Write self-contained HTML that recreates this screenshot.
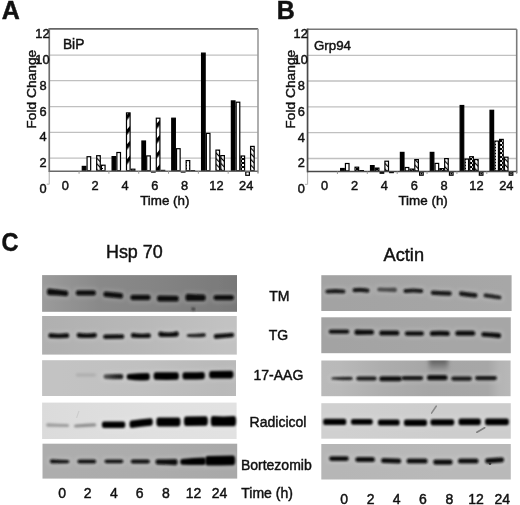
<!DOCTYPE html>
<html><head><meta charset="utf-8"><style>
html,body{margin:0;padding:0;background:#fff;width:520px;height:505px;overflow:hidden}
svg{display:block}
text{font-family:"Liberation Sans", sans-serif;fill:#111;stroke:#111;stroke-width:0.45px}
svg{will-change:transform}
</style></head><body>
<svg width="520" height="505" viewBox="0 0 520 505">
<defs>
<pattern id="chk" width="4" height="4" patternUnits="userSpaceOnUse"><rect width="4" height="4" fill="#fff"/><rect width="2" height="2" fill="#000"/><rect x="2" y="2" width="2" height="2" fill="#000"/></pattern>
<pattern id="diag" width="9.5" height="9.5" patternUnits="userSpaceOnUse" patternTransform="rotate(40)"><rect width="9.5" height="9.5" fill="#fff"/><rect width="3.4" height="9.5" fill="#000"/></pattern>
<pattern id="diag2" width="4" height="4" patternUnits="userSpaceOnUse" patternTransform="rotate(-45)"><rect width="4" height="4" fill="#fff"/><rect width="1.2" height="4" fill="#000"/></pattern>
<pattern id="dots" width="3" height="3" patternUnits="userSpaceOnUse"><rect width="3" height="3" fill="#fff"/><rect width="1" height="1" fill="#000"/></pattern>
<filter id="bl" x="-20%" y="-100%" width="140%" height="300%"><feGaussianBlur stdDeviation="0.95"/></filter>
<filter id="bl2" x="-50%" y="-100%" width="200%" height="300%"><feGaussianBlur stdDeviation="2.2"/></filter>
<linearGradient id="g174" x1="0" x2="1" y1="0" y2="0"><stop offset="0" stop-color="#5a5a5a"/><stop offset="0.6" stop-color="#2a2a2a"/><stop offset="1" stop-color="#1a1a1a"/></linearGradient>
<clipPath id="cp3"><rect x="321.3" y="360.5" width="189.3" height="35.7"/></clipPath>
<linearGradient id="cloud" x1="0" x2="0" y1="0" y2="1"><stop offset="0" stop-color="#505050" stop-opacity="0.95"/><stop offset="0.4" stop-color="#606060" stop-opacity="0.7"/><stop offset="1" stop-color="#888" stop-opacity="0"/></linearGradient>
<filter id="soft"><feGaussianBlur stdDeviation="0.35"/></filter>
</defs>
<defs><linearGradient id="pg0" x1="0" x2="1" y1="0" y2="0"><stop offset="-0.001" stop-color="rgb(155,155,155)"/><stop offset="0.148" stop-color="rgb(146,146,146)"/><stop offset="0.297" stop-color="rgb(137,137,137)"/><stop offset="0.554" stop-color="rgb(133,133,133)"/><stop offset="0.810" stop-color="rgb(126,126,126)"/><stop offset="1.000" stop-color="rgb(120,120,120)"/></linearGradient><linearGradient id="pg1" x1="0" x2="1" y1="0" y2="0"><stop offset="-0.001" stop-color="rgb(176,176,176)"/><stop offset="0.092" stop-color="rgb(177,177,177)"/><stop offset="0.503" stop-color="rgb(184,184,184)"/><stop offset="0.945" stop-color="rgb(194,194,194)"/><stop offset="1.001" stop-color="rgb(194,194,194)"/></linearGradient><linearGradient id="pg2" x1="0" x2="1" y1="0" y2="0"><stop offset="-0.001" stop-color="rgb(195,195,195)"/><stop offset="0.092" stop-color="rgb(195,195,195)"/><stop offset="0.505" stop-color="rgb(192,192,192)"/><stop offset="0.928" stop-color="rgb(185,185,185)"/><stop offset="1.000" stop-color="rgb(186,186,186)"/></linearGradient><linearGradient id="pg3" x1="0" x2="1" y1="0" y2="0"><stop offset="-0.001" stop-color="rgb(219,219,219)"/><stop offset="0.092" stop-color="rgb(220,220,220)"/><stop offset="0.555" stop-color="rgb(224,224,224)"/><stop offset="0.946" stop-color="rgb(226,226,226)"/><stop offset="1.002" stop-color="rgb(226,226,226)"/></linearGradient><linearGradient id="pg4" x1="0" x2="1" y1="0" y2="0"><stop offset="-0.003" stop-color="rgb(173,173,173)"/><stop offset="0.090" stop-color="rgb(173,173,173)"/><stop offset="0.552" stop-color="rgb(172,172,172)"/><stop offset="0.942" stop-color="rgb(169,169,169)"/><stop offset="0.999" stop-color="rgb(169,169,169)"/></linearGradient><linearGradient id="pg5" x1="0" x2="1" y1="0" y2="0"><stop offset="-0.002" stop-color="rgb(163,163,163)"/><stop offset="0.072" stop-color="rgb(163,163,163)"/><stop offset="0.571" stop-color="rgb(165,165,165)"/><stop offset="0.965" stop-color="rgb(167,167,167)"/><stop offset="1.002" stop-color="rgb(167,167,167)"/></linearGradient><linearGradient id="pg6" x1="0" x2="1" y1="0" y2="0"><stop offset="-0.002" stop-color="rgb(163,163,163)"/><stop offset="0.072" stop-color="rgb(163,163,163)"/><stop offset="0.653" stop-color="rgb(166,166,166)"/><stop offset="1.001" stop-color="rgb(166,166,166)"/></linearGradient><linearGradient id="pg7" x1="0" x2="1" y1="0" y2="0"><stop offset="-0.002" stop-color="rgb(186,186,186)"/><stop offset="0.099" stop-color="rgb(185,185,185)"/><stop offset="0.310" stop-color="rgb(174,174,174)"/><stop offset="0.574" stop-color="rgb(166,166,166)"/><stop offset="0.881" stop-color="rgb(167,167,167)"/><stop offset="0.939" stop-color="rgb(180,180,180)"/><stop offset="1.002" stop-color="rgb(184,184,184)"/></linearGradient><linearGradient id="pg8" x1="0" x2="1" y1="0" y2="0"><stop offset="-0.002" stop-color="rgb(208,208,208)"/><stop offset="0.099" stop-color="rgb(208,208,208)"/><stop offset="0.653" stop-color="rgb(205,205,205)"/><stop offset="1.001" stop-color="rgb(205,205,205)"/></linearGradient><linearGradient id="pg9" x1="0" x2="1" y1="0" y2="0"><stop offset="-0.002" stop-color="rgb(182,182,182)"/><stop offset="0.099" stop-color="rgb(182,182,182)"/><stop offset="0.653" stop-color="rgb(185,185,185)"/><stop offset="1.001" stop-color="rgb(185,185,185)"/></linearGradient></defs>
<rect width="520" height="505" fill="#fff"/>
<text x="1.7" y="18.6" font-size="25" font-weight="bold">A</text>
<line x1="49.25" x2="258.0" y1="55.10" y2="55.10" stroke="#c0c0c0" stroke-width="1.3"/>
<line x1="49.25" x2="258.0" y1="80.70" y2="80.70" stroke="#c0c0c0" stroke-width="1.3"/>
<line x1="49.25" x2="258.0" y1="106.60" y2="106.60" stroke="#c0c0c0" stroke-width="1.3"/>
<line x1="49.25" x2="258.0" y1="132.40" y2="132.40" stroke="#c0c0c0" stroke-width="1.3"/>
<line x1="49.25" x2="258.0" y1="158.20" y2="158.20" stroke="#c0c0c0" stroke-width="1.3"/>
<line x1="49.25" x2="258.0" y1="28.85" y2="28.85" stroke="#666666" stroke-width="1.6"/>
<line x1="258.0" x2="258.0" y1="28.85" y2="172.75" stroke="#9a9a9a" stroke-width="1.6"/>
<line x1="49.25" x2="49.25" y1="171.25" y2="184.20" stroke="#b8b8b8" stroke-width="1.2"/>
<line x1="46.75" x2="49.25" y1="184.20" y2="184.20" stroke="#b8b8b8" stroke-width="1.2"/>
<rect x="82.27" y="166.40" width="3.60" height="4.25" fill="#000" stroke="#000" stroke-width="1.2"/>
<rect x="87.07" y="156.70" width="3.60" height="13.95" fill="#fff" stroke="#000" stroke-width="1.2"/>
<rect x="96.67" y="155.70" width="3.60" height="14.95" fill="url(#diag2)" stroke="#000" stroke-width="1.2"/>
<rect x="101.47" y="165.20" width="3.60" height="5.45" fill="url(#dots)" stroke="#000" stroke-width="1.2"/>
<rect x="112.09" y="156.60" width="3.60" height="14.05" fill="#000" stroke="#000" stroke-width="1.2"/>
<rect x="116.89" y="152.50" width="3.60" height="18.15" fill="#fff" stroke="#000" stroke-width="1.2"/>
<rect x="126.49" y="112.90" width="3.60" height="57.75" fill="url(#diag)" stroke="#000" stroke-width="1.2"/>
<rect x="131.29" y="169.20" width="3.60" height="1.45" fill="#fff" stroke="#000" stroke-width="1.2"/>
<rect x="141.91" y="141.00" width="3.60" height="29.65" fill="#000" stroke="#000" stroke-width="1.2"/>
<rect x="146.71" y="155.90" width="3.60" height="14.75" fill="#fff" stroke="#000" stroke-width="1.2"/>
<rect x="151.51" y="171.85" width="3.60" height="0.20" fill="#000" stroke="#000" stroke-width="1.2"/>
<rect x="156.31" y="118.20" width="3.60" height="52.45" fill="url(#diag)" stroke="#000" stroke-width="1.2"/>
<rect x="161.11" y="170.40" width="3.60" height="0.25" fill="#000" stroke="#000" stroke-width="1.2"/>
<rect x="171.74" y="118.20" width="3.60" height="52.45" fill="#000" stroke="#000" stroke-width="1.2"/>
<rect x="176.54" y="148.70" width="3.60" height="21.95" fill="#fff" stroke="#000" stroke-width="1.2"/>
<rect x="181.34" y="171.85" width="3.60" height="0.20" fill="#fff" stroke="#000" stroke-width="1.2"/>
<rect x="186.14" y="160.60" width="3.60" height="10.05" fill="url(#dots)" stroke="#000" stroke-width="1.2"/>
<rect x="190.94" y="170.60" width="3.60" height="0.20" fill="#000" stroke="#000" stroke-width="1.2"/>
<rect x="201.56" y="53.10" width="3.60" height="117.55" fill="#000" stroke="#000" stroke-width="1.2"/>
<rect x="206.36" y="133.40" width="3.60" height="37.25" fill="#fff" stroke="#000" stroke-width="1.2"/>
<rect x="215.96" y="150.10" width="3.60" height="20.55" fill="url(#diag2)" stroke="#000" stroke-width="1.2"/>
<rect x="220.76" y="155.60" width="3.60" height="15.05" fill="url(#diag2)" stroke="#000" stroke-width="1.2"/>
<rect x="231.38" y="100.90" width="3.60" height="69.75" fill="#000" stroke="#000" stroke-width="1.2"/>
<rect x="236.18" y="102.20" width="3.60" height="68.45" fill="#fff" stroke="#000" stroke-width="1.2"/>
<rect x="240.98" y="156.00" width="3.60" height="14.65" fill="url(#chk)" stroke="#000" stroke-width="1.2"/>
<rect x="245.78" y="171.85" width="3.60" height="3.45" fill="#fff" stroke="#000" stroke-width="1.2"/>
<rect x="250.58" y="146.40" width="3.60" height="24.25" fill="url(#diag2)" stroke="#000" stroke-width="1.2"/>
<line x1="49.25" x2="258.0" y1="171.25" y2="171.25" stroke="#686868" stroke-width="1.7"/>
<line x1="79.07" x2="79.07" y1="171.25" y2="173.75" stroke="#999" stroke-width="1"/>
<line x1="108.89" x2="108.89" y1="171.25" y2="173.75" stroke="#999" stroke-width="1"/>
<line x1="138.71" x2="138.71" y1="171.25" y2="173.75" stroke="#999" stroke-width="1"/>
<line x1="168.54" x2="168.54" y1="171.25" y2="173.75" stroke="#999" stroke-width="1"/>
<line x1="198.36" x2="198.36" y1="171.25" y2="173.75" stroke="#999" stroke-width="1"/>
<line x1="228.18" x2="228.18" y1="171.25" y2="173.75" stroke="#999" stroke-width="1"/>
<line x1="258.00" x2="258.00" y1="171.25" y2="173.75" stroke="#999" stroke-width="1"/>
<line x1="49.25" x2="49.25" y1="28.05" y2="172.05" stroke="#6e6e6e" stroke-width="1.7"/>
<text x="46.55" y="193.18" font-size="12.8" text-anchor="end">0</text>
<text x="46.55" y="167.18" font-size="12.8" text-anchor="end">2</text>
<text x="46.55" y="141.38" font-size="12.8" text-anchor="end">4</text>
<text x="46.55" y="115.58" font-size="12.8" text-anchor="end">6</text>
<text x="46.55" y="89.68" font-size="12.8" text-anchor="end">8</text>
<text x="49.55" y="64.08" font-size="12.8" text-anchor="end">10</text>
<text x="49.55" y="37.83" font-size="12.8" text-anchor="end">12</text>
<text x="65.35" y="190.2" font-size="12.8" text-anchor="middle">0</text>
<text x="95.17" y="190.2" font-size="12.8" text-anchor="middle">2</text>
<text x="124.99" y="190.2" font-size="12.8" text-anchor="middle">4</text>
<text x="154.81" y="190.2" font-size="12.8" text-anchor="middle">6</text>
<text x="184.64" y="190.2" font-size="12.8" text-anchor="middle">8</text>
<text x="216.41" y="190.2" font-size="12.8" text-anchor="middle">12</text>
<text x="246.23" y="190.2" font-size="12.8" text-anchor="middle">24</text>
<text x="140.15" y="205.0" font-size="13.4">Time (h)</text>
<text transform="translate(36.25,89.2) rotate(-90) scale(1,0.9)" font-size="13.8" text-anchor="middle">Fold Change</text>
<text x="62.90" y="49.00" font-size="13.8">BiP</text>
<text x="276.8" y="18.6" font-size="25" font-weight="bold">B</text>
<line x1="307.55" x2="516.7" y1="55.35" y2="55.35" stroke="#c0c0c0" stroke-width="1.3"/>
<line x1="307.55" x2="516.7" y1="81.00" y2="81.00" stroke="#c0c0c0" stroke-width="1.3"/>
<line x1="307.55" x2="516.7" y1="106.90" y2="106.90" stroke="#c0c0c0" stroke-width="1.3"/>
<line x1="307.55" x2="516.7" y1="132.70" y2="132.70" stroke="#c0c0c0" stroke-width="1.3"/>
<line x1="307.55" x2="516.7" y1="158.50" y2="158.50" stroke="#c0c0c0" stroke-width="1.3"/>
<line x1="307.55" x2="516.7" y1="29.25" y2="29.25" stroke="#777777" stroke-width="1.6"/>
<line x1="516.7" x2="516.7" y1="29.25" y2="173.00" stroke="#7a7a7a" stroke-width="1.6"/>
<line x1="307.55" x2="307.55" y1="171.50" y2="184.43" stroke="#b8b8b8" stroke-width="1.2"/>
<line x1="305.05" x2="307.55" y1="184.43" y2="184.43" stroke="#b8b8b8" stroke-width="1.2"/>
<rect x="340.63" y="168.50" width="3.60" height="2.40" fill="#000" stroke="#000" stroke-width="1.2"/>
<rect x="345.43" y="163.50" width="3.60" height="7.40" fill="#fff" stroke="#000" stroke-width="1.2"/>
<rect x="355.03" y="167.20" width="3.60" height="3.70" fill="url(#chk)" stroke="#000" stroke-width="1.2"/>
<rect x="359.83" y="170.60" width="3.60" height="0.30" fill="#000" stroke="#000" stroke-width="1.2"/>
<rect x="370.51" y="165.60" width="3.60" height="5.30" fill="#000" stroke="#000" stroke-width="1.2"/>
<rect x="375.31" y="168.10" width="3.60" height="2.80" fill="url(#chk)" stroke="#000" stroke-width="1.2"/>
<rect x="380.11" y="172.10" width="3.60" height="1.10" fill="#000" stroke="#000" stroke-width="1.2"/>
<rect x="384.91" y="161.20" width="3.60" height="9.70" fill="url(#diag2)" stroke="#000" stroke-width="1.2"/>
<rect x="389.71" y="172.10" width="3.60" height="0.50" fill="#fff" stroke="#000" stroke-width="1.2"/>
<rect x="400.39" y="152.40" width="3.60" height="18.50" fill="#000" stroke="#000" stroke-width="1.2"/>
<rect x="405.19" y="167.50" width="3.60" height="3.40" fill="#fff" stroke="#000" stroke-width="1.2"/>
<rect x="409.99" y="169.10" width="3.60" height="1.80" fill="url(#chk)" stroke="#000" stroke-width="1.2"/>
<rect x="414.79" y="159.60" width="3.60" height="11.30" fill="url(#diag2)" stroke="#000" stroke-width="1.2"/>
<rect x="419.59" y="172.10" width="3.60" height="3.10" fill="#fff" stroke="#000" stroke-width="1.2"/>
<circle cx="421.39" cy="173.65" r="0.9" fill="#000"/>
<rect x="430.26" y="152.40" width="3.60" height="18.50" fill="#000" stroke="#000" stroke-width="1.2"/>
<rect x="435.06" y="163.40" width="3.60" height="7.50" fill="#fff" stroke="#000" stroke-width="1.2"/>
<rect x="439.86" y="168.60" width="3.60" height="2.30" fill="url(#chk)" stroke="#000" stroke-width="1.2"/>
<rect x="444.66" y="158.60" width="3.60" height="12.30" fill="url(#diag2)" stroke="#000" stroke-width="1.2"/>
<rect x="449.46" y="172.10" width="3.60" height="3.10" fill="#fff" stroke="#000" stroke-width="1.2"/>
<circle cx="451.26" cy="173.65" r="0.9" fill="#000"/>
<rect x="460.14" y="105.50" width="3.60" height="65.40" fill="#000" stroke="#000" stroke-width="1.2"/>
<rect x="464.94" y="159.10" width="3.60" height="11.80" fill="url(#dots)" stroke="#000" stroke-width="1.2"/>
<rect x="469.74" y="156.70" width="3.60" height="14.20" fill="url(#chk)" stroke="#000" stroke-width="1.2"/>
<rect x="474.54" y="159.60" width="3.60" height="11.30" fill="url(#diag2)" stroke="#000" stroke-width="1.2"/>
<rect x="479.34" y="172.10" width="3.60" height="3.10" fill="#fff" stroke="#000" stroke-width="1.2"/>
<circle cx="481.14" cy="173.65" r="0.9" fill="#000"/>
<rect x="490.02" y="110.30" width="3.60" height="60.60" fill="#000" stroke="#000" stroke-width="1.2"/>
<rect x="494.82" y="141.10" width="3.60" height="29.80" fill="url(#dots)" stroke="#000" stroke-width="1.2"/>
<rect x="499.62" y="139.40" width="3.60" height="31.50" fill="url(#chk)" stroke="#000" stroke-width="1.2"/>
<rect x="504.42" y="157.20" width="3.60" height="13.70" fill="url(#diag2)" stroke="#000" stroke-width="1.2"/>
<rect x="509.22" y="172.10" width="3.60" height="3.10" fill="#fff" stroke="#000" stroke-width="1.2"/>
<circle cx="511.02" cy="173.65" r="0.9" fill="#000"/>
<line x1="307.55" x2="516.7" y1="171.50" y2="171.50" stroke="#484848" stroke-width="1.7"/>
<line x1="337.43" x2="337.43" y1="171.50" y2="174.00" stroke="#999" stroke-width="1"/>
<line x1="367.31" x2="367.31" y1="171.50" y2="174.00" stroke="#999" stroke-width="1"/>
<line x1="397.19" x2="397.19" y1="171.50" y2="174.00" stroke="#999" stroke-width="1"/>
<line x1="427.06" x2="427.06" y1="171.50" y2="174.00" stroke="#999" stroke-width="1"/>
<line x1="456.94" x2="456.94" y1="171.50" y2="174.00" stroke="#999" stroke-width="1"/>
<line x1="486.82" x2="486.82" y1="171.50" y2="174.00" stroke="#999" stroke-width="1"/>
<line x1="516.70" x2="516.70" y1="171.50" y2="174.00" stroke="#999" stroke-width="1"/>
<line x1="307.55" x2="307.55" y1="28.45" y2="172.30" stroke="#4a4a4a" stroke-width="1.7"/>
<text x="304.85" y="193.41" font-size="12.8" text-anchor="end">0</text>
<text x="304.85" y="167.48" font-size="12.8" text-anchor="end">2</text>
<text x="304.85" y="141.68" font-size="12.8" text-anchor="end">4</text>
<text x="304.85" y="115.88" font-size="12.8" text-anchor="end">6</text>
<text x="304.85" y="89.98" font-size="12.8" text-anchor="end">8</text>
<text x="307.85" y="64.33" font-size="12.8" text-anchor="end">10</text>
<text x="307.85" y="38.23" font-size="12.8" text-anchor="end">12</text>
<text x="324.65" y="190.2" font-size="12.8" text-anchor="middle">0</text>
<text x="354.53" y="190.2" font-size="12.8" text-anchor="middle">2</text>
<text x="384.41" y="190.2" font-size="12.8" text-anchor="middle">4</text>
<text x="414.29" y="190.2" font-size="12.8" text-anchor="middle">6</text>
<text x="444.16" y="190.2" font-size="12.8" text-anchor="middle">8</text>
<text x="476.44" y="190.2" font-size="12.8" text-anchor="middle">12</text>
<text x="506.32" y="190.2" font-size="12.8" text-anchor="middle">24</text>
<text x="398.45" y="205.0" font-size="13.4">Time (h)</text>
<text transform="translate(294.55,89.2) rotate(-90) scale(1,0.9)" font-size="13.8" text-anchor="middle">Fold Change</text>
<text x="314.00" y="50.00" font-size="13.3">Grp94</text>
<text transform="translate(1.6,250.6) scale(0.94,1.04)" font-size="25" font-weight="bold">C</text>
<text x="106.0" y="258.4" font-size="17.9">Hsp 70</text>
<text x="383.6" y="261.4" font-size="18.2">Actin</text>
<rect x="42.1" y="275.1" width="194.90" height="36.70" fill="url(#pg0)" filter="url(#soft)"/>
<path d="M46.80,286.40 Q57.60,287.70 68.40,288.20 Q70.50,288.20 70.50,293.30 Q70.50,298.40 68.40,298.40 Q57.60,297.50 46.80,297.40 Q44.70,297.40 44.70,291.90 Q44.70,286.40 46.80,286.40 Z" fill="#fff" opacity="0.16" filter="url(#bl2)"/>
<path d="M75.60,288.10 Q85.85,288.10 96.10,288.10 Q98.20,288.10 98.20,292.90 Q98.20,297.70 96.10,297.70 Q85.85,297.70 75.60,297.70 Q73.50,297.70 73.50,292.90 Q73.50,288.10 75.60,288.10 Z" fill="#fff" opacity="0.16" filter="url(#bl2)"/>
<path d="M103.30,289.20 Q113.25,290.00 123.20,290.80 Q125.30,290.80 125.30,295.80 Q125.30,300.80 123.20,300.80 Q113.25,300.00 103.30,299.20 Q101.20,299.20 101.20,294.20 Q101.20,289.20 103.30,289.20 Z" fill="#fff" opacity="0.16" filter="url(#bl2)"/>
<path d="M130.30,292.65 Q140.45,292.65 150.60,292.65 Q152.70,292.65 152.70,297.60 Q152.70,302.55 150.60,302.55 Q140.45,302.55 130.30,302.55 Q128.20,302.55 128.20,297.60 Q128.20,292.65 130.30,292.65 Z" fill="#fff" opacity="0.16" filter="url(#bl2)"/>
<path d="M156.90,293.40 Q167.90,293.50 178.90,293.60 Q181.00,293.60 181.00,298.70 Q181.00,303.80 178.90,303.80 Q167.90,303.70 156.90,303.60 Q154.80,303.60 154.80,298.50 Q154.80,293.40 156.90,293.40 Z" fill="#fff" opacity="0.16" filter="url(#bl2)"/>
<path d="M185.30,291.60 Q195.55,292.25 205.80,292.30 Q207.90,292.30 207.90,297.80 Q207.90,303.30 205.80,303.30 Q195.55,302.95 185.30,303.20 Q183.20,303.20 183.20,297.40 Q183.20,291.60 185.30,291.60 Z" fill="#fff" opacity="0.16" filter="url(#bl2)"/>
<path d="M213.30,292.80 Q223.75,292.80 234.20,292.80 Q236.30,292.80 236.30,297.60 Q236.30,302.40 234.20,302.40 Q223.75,302.40 213.30,302.40 Q211.20,302.40 211.20,297.60 Q211.20,292.80 213.30,292.80 Z" fill="#fff" opacity="0.16" filter="url(#bl2)"/>
<path d="M49.00,288.60 Q57.60,289.90 66.20,290.40 Q68.30,290.40 68.30,293.30 Q68.30,296.20 66.20,296.20 Q57.60,295.30 49.00,295.20 Q46.90,295.20 46.90,291.90 Q46.90,288.60 49.00,288.60 Z" fill="#0a0a0a" filter="url(#bl)"/>
<path d="M77.80,290.30 Q85.85,290.30 93.90,290.30 Q96.00,290.30 96.00,292.90 Q96.00,295.50 93.90,295.50 Q85.85,295.50 77.80,295.50 Q75.70,295.50 75.70,292.90 Q75.70,290.30 77.80,290.30 Z" fill="#0a0a0a" filter="url(#bl)"/>
<path d="M105.50,291.40 Q113.25,292.20 121.00,293.00 Q123.10,293.00 123.10,295.80 Q123.10,298.60 121.00,298.60 Q113.25,297.80 105.50,297.00 Q103.40,297.00 103.40,294.20 Q103.40,291.40 105.50,291.40 Z" fill="#0a0a0a" filter="url(#bl)"/>
<path d="M132.50,294.85 Q140.45,294.85 148.40,294.85 Q150.50,294.85 150.50,297.60 Q150.50,300.35 148.40,300.35 Q140.45,300.35 132.50,300.35 Q130.40,300.35 130.40,297.60 Q130.40,294.85 132.50,294.85 Z" fill="#0a0a0a" filter="url(#bl)"/>
<path d="M159.10,295.60 Q167.90,295.70 176.70,295.80 Q178.80,295.80 178.80,298.70 Q178.80,301.60 176.70,301.60 Q167.90,301.50 159.10,301.40 Q157.00,301.40 157.00,298.50 Q157.00,295.60 159.10,295.60 Z" fill="#0a0a0a" filter="url(#bl)"/>
<path d="M187.50,293.80 Q195.55,294.45 203.60,294.50 Q205.70,294.50 205.70,297.80 Q205.70,301.10 203.60,301.10 Q195.55,300.75 187.50,301.00 Q185.40,301.00 185.40,297.40 Q185.40,293.80 187.50,293.80 Z" fill="#0a0a0a" filter="url(#bl)"/>
<path d="M215.50,295.00 Q223.75,295.00 232.00,295.00 Q234.10,295.00 234.10,297.60 Q234.10,300.20 232.00,300.20 Q223.75,300.20 215.50,300.20 Q213.40,300.20 213.40,297.60 Q213.40,295.00 215.50,295.00 Z" fill="#0a0a0a" filter="url(#bl)"/>
<rect x="42.1" y="316.0" width="194.70" height="38.60" fill="url(#pg1)" filter="url(#soft)"/>
<path d="M48.20,330.90 Q58.80,332.40 69.40,330.90 Q71.50,330.90 71.50,335.60 Q71.50,340.30 69.40,340.30 Q58.80,340.60 48.20,340.30 Q46.10,340.30 46.10,335.60 Q46.10,330.90 48.20,330.90 Z" fill="#fff" opacity="0.16" filter="url(#bl2)"/>
<path d="M76.50,330.65 Q86.75,332.05 97.00,330.65 Q99.10,330.65 99.10,335.30 Q99.10,339.95 97.00,339.95 Q86.75,340.35 76.50,339.95 Q74.40,339.95 74.40,335.30 Q74.40,330.65 76.50,330.65 Z" fill="#fff" opacity="0.16" filter="url(#bl2)"/>
<path d="M103.00,332.30 Q113.70,332.20 124.40,332.10 Q126.50,332.10 126.50,336.50 Q126.50,340.90 124.40,340.90 Q113.70,341.00 103.00,341.10 Q100.90,341.10 100.90,336.70 Q100.90,332.30 103.00,332.30 Z" fill="#fff" opacity="0.16" filter="url(#bl2)"/>
<path d="M130.70,330.60 Q140.85,332.12 151.00,331.15 Q153.10,331.15 153.10,335.70 Q153.10,340.25 151.00,340.25 Q140.85,340.47 130.70,340.00 Q128.60,340.00 128.60,335.30 Q128.60,330.60 130.70,330.60 Z" fill="#fff" opacity="0.16" filter="url(#bl2)"/>
<path d="M158.20,329.30 Q168.55,331.40 178.90,329.10 Q181.00,329.10 181.00,334.00 Q181.00,338.90 178.90,338.90 Q168.55,339.60 158.20,339.10 Q156.10,339.10 156.10,334.20 Q156.10,329.30 158.20,329.30 Z" fill="#fff" opacity="0.16" filter="url(#bl2)"/>
<path d="M186.50,331.70 Q196.25,331.75 206.00,330.80 Q208.10,330.80 208.10,335.00 Q208.10,339.20 206.00,339.20 Q196.25,339.85 186.50,339.10 Q184.40,339.10 184.40,335.40 Q184.40,331.70 186.50,331.70 Z" fill="#fff" opacity="0.16" filter="url(#bl2)"/>
<path d="M213.60,331.90 Q223.95,331.20 234.30,330.50 Q236.40,330.50 236.40,335.00 Q236.40,339.50 234.30,339.50 Q223.95,340.20 213.60,340.90 Q211.50,340.90 211.50,336.40 Q211.50,331.90 213.60,331.90 Z" fill="#fff" opacity="0.16" filter="url(#bl2)"/>
<path d="M50.40,333.10 Q58.80,334.60 67.20,333.10 Q69.30,333.10 69.30,335.60 Q69.30,338.10 67.20,338.10 Q58.80,338.40 50.40,338.10 Q48.30,338.10 48.30,335.60 Q48.30,333.10 50.40,333.10 Z" fill="#0a0a0a" filter="url(#bl)"/>
<path d="M78.70,332.85 Q86.75,334.25 94.80,332.85 Q96.90,332.85 96.90,335.30 Q96.90,337.75 94.80,337.75 Q86.75,338.15 78.70,337.75 Q76.60,337.75 76.60,335.30 Q76.60,332.85 78.70,332.85 Z" fill="#0a0a0a" filter="url(#bl)"/>
<path d="M105.20,334.50 Q113.70,334.40 122.20,334.30 Q124.30,334.30 124.30,336.50 Q124.30,338.70 122.20,338.70 Q113.70,338.80 105.20,338.90 Q103.10,338.90 103.10,336.70 Q103.10,334.50 105.20,334.50 Z" fill="#0a0a0a" filter="url(#bl)"/>
<path d="M132.90,332.80 Q140.85,334.32 148.80,333.35 Q150.90,333.35 150.90,335.70 Q150.90,338.05 148.80,338.05 Q140.85,338.27 132.90,337.80 Q130.80,337.80 130.80,335.30 Q130.80,332.80 132.90,332.80 Z" fill="#0a0a0a" filter="url(#bl)"/>
<path d="M160.40,331.50 Q168.55,333.60 176.70,331.30 Q178.80,331.30 178.80,334.00 Q178.80,336.70 176.70,336.70 Q168.55,337.40 160.40,336.90 Q158.30,336.90 158.30,334.20 Q158.30,331.50 160.40,331.50 Z" fill="#0a0a0a" filter="url(#bl)"/>
<path d="M188.70,333.90 Q196.25,333.95 203.80,333.00 Q205.90,333.00 205.90,335.00 Q205.90,337.00 203.80,337.00 Q196.25,337.65 188.70,336.90 Q186.60,336.90 186.60,335.40 Q186.60,333.90 188.70,333.90 Z" fill="#1c1c1c" filter="url(#bl)"/>
<path d="M215.80,334.10 Q223.95,333.40 232.10,332.70 Q234.20,332.70 234.20,335.00 Q234.20,337.30 232.10,337.30 Q223.95,338.00 215.80,338.70 Q213.70,338.70 213.70,336.40 Q213.70,334.10 215.80,334.10 Z" fill="#0a0a0a" filter="url(#bl)"/>
<rect x="42.1" y="360.2" width="193.90" height="35.80" fill="url(#pg2)" filter="url(#soft)"/>
<path d="M103.30,372.10 Q113.40,371.65 123.50,371.80 Q125.60,371.80 125.60,376.60 Q125.60,381.40 123.50,381.40 Q113.40,381.55 103.30,381.10 Q101.20,381.10 101.20,376.60 Q101.20,372.10 103.30,372.10 Z" fill="#fff" opacity="0.16" filter="url(#bl2)"/>
<path d="M126.60,371.80 Q138.25,371.00 149.90,370.80 Q152.00,370.80 152.00,376.60 Q152.00,382.40 149.90,382.40 Q138.25,383.40 126.60,381.80 Q124.50,381.80 124.50,376.80 Q124.50,371.80 126.60,371.80 Z" fill="#fff" opacity="0.16" filter="url(#bl2)"/>
<path d="M153.50,370.00 Q166.25,370.30 179.00,370.00 Q181.10,370.00 181.10,376.00 Q181.10,382.00 179.00,382.00 Q166.25,382.30 153.50,382.00 Q151.40,382.00 151.40,376.00 Q151.40,370.00 153.50,370.00 Z" fill="#fff" opacity="0.16" filter="url(#bl2)"/>
<path d="M182.30,370.00 Q193.65,370.20 205.00,369.80 Q207.10,369.80 207.10,375.60 Q207.10,381.40 205.00,381.40 Q193.65,381.80 182.30,381.60 Q180.20,381.60 180.20,375.80 Q180.20,370.00 182.30,370.00 Z" fill="#fff" opacity="0.16" filter="url(#bl2)"/>
<path d="M209.00,368.80 Q221.30,368.70 233.60,368.60 Q235.70,368.60 235.70,374.60 Q235.70,380.60 233.60,380.60 Q221.30,380.70 209.00,380.80 Q206.90,380.80 206.90,374.80 Q206.90,368.80 209.00,368.80 Z" fill="#fff" opacity="0.16" filter="url(#bl2)"/>
<path d="M77.80,373.20 Q85.90,373.20 94.00,373.20 Q96.10,373.20 96.10,375.00 Q96.10,376.80 94.00,376.80 Q85.90,376.80 77.80,376.80 Q75.70,376.80 75.70,375.00 Q75.70,373.20 77.80,373.20 Z" fill="#b0b0b0" filter="url(#bl)"/>
<path d="M105.50,374.30 Q113.40,373.85 121.30,374.00 Q123.40,374.00 123.40,376.60 Q123.40,379.20 121.30,379.20 Q113.40,379.35 105.50,378.90 Q103.40,378.90 103.40,376.60 Q103.40,374.30 105.50,374.30 Z" fill="url(#g174)" filter="url(#bl)"/>
<path d="M128.80,374.00 Q138.25,373.20 147.70,373.00 Q149.80,373.00 149.80,376.60 Q149.80,380.20 147.70,380.20 Q138.25,381.20 128.80,379.60 Q126.70,379.60 126.70,376.80 Q126.70,374.00 128.80,374.00 Z" fill="#050505" filter="url(#bl)"/>
<path d="M155.70,372.20 Q166.25,372.50 176.80,372.20 Q178.90,372.20 178.90,376.00 Q178.90,379.80 176.80,379.80 Q166.25,380.10 155.70,379.80 Q153.60,379.80 153.60,376.00 Q153.60,372.20 155.70,372.20 Z" fill="#050505" filter="url(#bl)"/>
<path d="M184.50,372.20 Q193.65,372.40 202.80,372.00 Q204.90,372.00 204.90,375.60 Q204.90,379.20 202.80,379.20 Q193.65,379.60 184.50,379.40 Q182.40,379.40 182.40,375.80 Q182.40,372.20 184.50,372.20 Z" fill="#050505" filter="url(#bl)"/>
<path d="M211.20,371.00 Q221.30,370.90 231.40,370.80 Q233.50,370.80 233.50,374.60 Q233.50,378.40 231.40,378.40 Q221.30,378.50 211.20,378.60 Q209.10,378.60 209.10,374.80 Q209.10,371.00 211.20,371.00 Z" fill="#050505" filter="url(#bl)"/>
<rect x="42.1" y="402.6" width="194.50" height="36.40" fill="url(#pg3)" filter="url(#soft)"/>
<path d="M101.80,419.30 Q113.60,419.30 125.40,419.30 Q127.50,419.30 127.50,424.80 Q127.50,430.30 125.40,430.30 Q113.60,430.30 101.80,430.30 Q99.70,430.30 99.70,424.80 Q99.70,419.30 101.80,419.30 Z" fill="#fff" opacity="0.16" filter="url(#bl2)"/>
<path d="M129.40,418.25 Q141.15,417.15 152.90,416.05 Q155.00,416.05 155.00,422.00 Q155.00,427.95 152.90,427.95 Q141.15,429.05 129.40,430.15 Q127.30,430.15 127.30,424.20 Q127.30,418.25 129.40,418.25 Z" fill="#fff" opacity="0.16" filter="url(#bl2)"/>
<path d="M156.20,415.40 Q168.40,415.40 180.60,415.40 Q182.70,415.40 182.70,422.00 Q182.70,428.60 180.60,428.60 Q168.40,428.60 156.20,428.60 Q154.10,428.60 154.10,422.00 Q154.10,415.40 156.20,415.40 Z" fill="#fff" opacity="0.16" filter="url(#bl2)"/>
<path d="M183.80,414.20 Q195.90,414.10 208.00,414.00 Q210.10,414.00 210.10,421.00 Q210.10,428.00 208.00,428.00 Q195.90,428.10 183.80,428.20 Q181.70,428.20 181.70,421.20 Q181.70,414.20 183.80,414.20 Z" fill="#fff" opacity="0.16" filter="url(#bl2)"/>
<path d="M210.60,413.90 Q223.40,414.60 236.20,413.90 Q238.30,413.90 238.30,421.20 Q238.30,428.50 236.20,428.50 Q223.40,428.40 210.60,428.50 Q208.50,428.50 208.50,421.20 Q208.50,413.90 210.60,413.90 Z" fill="#fff" opacity="0.16" filter="url(#bl2)"/>
<path d="M47.90,423.30 Q57.60,423.80 67.30,423.90 Q69.10,423.90 69.10,425.40 Q69.10,426.90 67.30,426.90 Q57.60,426.60 47.90,426.70 Q46.10,426.70 46.10,425.00 Q46.10,423.30 47.90,423.30 Z" fill="#9c9c9c" filter="url(#bl)"/>
<path d="M75.85,424.45 Q85.10,423.90 94.35,423.35 Q96.20,423.35 96.20,424.90 Q96.20,426.45 94.35,426.45 Q85.10,427.00 75.85,427.55 Q74.00,427.55 74.00,426.00 Q74.00,424.45 75.85,424.45 Z" fill="#8e8e8e" filter="url(#bl)"/>
<path d="M104.00,421.50 Q113.60,421.50 123.20,421.50 Q125.30,421.50 125.30,424.80 Q125.30,428.10 123.20,428.10 Q113.60,428.10 104.00,428.10 Q101.90,428.10 101.90,424.80 Q101.90,421.50 104.00,421.50 Z" fill="#050505" filter="url(#bl)"/>
<path d="M131.60,420.45 Q141.15,419.35 150.70,418.25 Q152.80,418.25 152.80,422.00 Q152.80,425.75 150.70,425.75 Q141.15,426.85 131.60,427.95 Q129.50,427.95 129.50,424.20 Q129.50,420.45 131.60,420.45 Z" fill="#050505" filter="url(#bl)"/>
<path d="M158.40,417.60 Q168.40,417.60 178.40,417.60 Q180.50,417.60 180.50,422.00 Q180.50,426.40 178.40,426.40 Q168.40,426.40 158.40,426.40 Q156.30,426.40 156.30,422.00 Q156.30,417.60 158.40,417.60 Z" fill="#050505" filter="url(#bl)"/>
<path d="M186.00,416.40 Q195.90,416.30 205.80,416.20 Q207.90,416.20 207.90,421.00 Q207.90,425.80 205.80,425.80 Q195.90,425.90 186.00,426.00 Q183.90,426.00 183.90,421.20 Q183.90,416.40 186.00,416.40 Z" fill="#050505" filter="url(#bl)"/>
<path d="M212.80,416.10 Q223.40,416.80 234.00,416.10 Q236.10,416.10 236.10,421.20 Q236.10,426.30 234.00,426.30 Q223.40,426.20 212.80,426.30 Q210.70,426.30 210.70,421.20 Q210.70,416.10 212.80,416.10 Z" fill="#050505" filter="url(#bl)"/>
<rect x="42.5" y="443.7" width="194.70" height="34.90" fill="url(#pg4)" filter="url(#soft)"/>
<path d="M49.70,457.00 Q59.65,457.50 69.60,457.80 Q71.70,457.80 71.70,461.60 Q71.70,465.40 69.60,465.40 Q59.65,465.40 49.70,465.60 Q47.60,465.60 47.60,461.30 Q47.60,457.00 49.70,457.00 Z" fill="#fff" opacity="0.16" filter="url(#bl2)"/>
<path d="M77.30,457.40 Q86.80,457.40 96.30,457.40 Q98.40,457.40 98.40,461.50 Q98.40,465.60 96.30,465.60 Q86.80,465.60 77.30,465.60 Q75.20,465.60 75.20,461.50 Q75.20,457.40 77.30,457.40 Z" fill="#fff" opacity="0.16" filter="url(#bl2)"/>
<path d="M104.40,457.20 Q113.90,457.20 123.40,457.20 Q125.50,457.20 125.50,461.30 Q125.50,465.40 123.40,465.40 Q113.90,465.40 104.40,465.40 Q102.30,465.40 102.30,461.30 Q102.30,457.20 104.40,457.20 Z" fill="#fff" opacity="0.16" filter="url(#bl2)"/>
<path d="M130.60,457.30 Q140.30,457.30 150.00,457.30 Q152.10,457.30 152.10,461.50 Q152.10,465.70 150.00,465.70 Q140.30,465.70 130.60,465.70 Q128.50,465.70 128.50,461.50 Q128.50,457.30 130.60,457.30 Z" fill="#fff" opacity="0.16" filter="url(#bl2)"/>
<path d="M155.40,457.00 Q166.55,456.95 177.70,456.70 Q179.80,456.70 179.80,462.10 Q179.80,467.50 177.70,467.50 Q166.55,467.05 155.40,466.80 Q153.30,466.80 153.30,461.90 Q153.30,457.00 155.40,457.00 Z" fill="#fff" opacity="0.16" filter="url(#bl2)"/>
<path d="M180.10,456.70 Q193.05,455.60 206.00,455.30 Q208.10,455.30 208.10,461.20 Q208.10,467.10 206.00,467.10 Q193.05,467.40 180.10,466.90 Q178.00,466.90 178.00,461.80 Q178.00,456.70 180.10,456.70 Z" fill="#fff" opacity="0.16" filter="url(#bl2)"/>
<path d="M205.10,453.80 Q220.20,453.60 235.30,453.40 Q237.40,453.40 237.40,460.40 Q237.40,467.40 235.30,467.40 Q220.20,467.60 205.10,467.80 Q203.00,467.80 203.00,460.80 Q203.00,453.80 205.10,453.80 Z" fill="#fff" opacity="0.16" filter="url(#bl2)"/>
<path d="M51.90,459.20 Q59.65,459.70 67.40,460.00 Q69.50,460.00 69.50,461.60 Q69.50,463.20 67.40,463.20 Q59.65,463.20 51.90,463.40 Q49.80,463.40 49.80,461.30 Q49.80,459.20 51.90,459.20 Z" fill="#111111" filter="url(#bl)"/>
<path d="M79.50,459.60 Q86.80,459.60 94.10,459.60 Q96.20,459.60 96.20,461.50 Q96.20,463.40 94.10,463.40 Q86.80,463.40 79.50,463.40 Q77.40,463.40 77.40,461.50 Q77.40,459.60 79.50,459.60 Z" fill="#111111" filter="url(#bl)"/>
<path d="M106.60,459.40 Q113.90,459.40 121.20,459.40 Q123.30,459.40 123.30,461.30 Q123.30,463.20 121.20,463.20 Q113.90,463.20 106.60,463.20 Q104.50,463.20 104.50,461.30 Q104.50,459.40 106.60,459.40 Z" fill="#111111" filter="url(#bl)"/>
<path d="M132.80,459.50 Q140.30,459.50 147.80,459.50 Q149.90,459.50 149.90,461.50 Q149.90,463.50 147.80,463.50 Q140.30,463.50 132.80,463.50 Q130.70,463.50 130.70,461.50 Q130.70,459.50 132.80,459.50 Z" fill="#0a0a0a" filter="url(#bl)"/>
<path d="M157.60,459.20 Q166.55,459.15 175.50,458.90 Q177.60,458.90 177.60,462.10 Q177.60,465.30 175.50,465.30 Q166.55,464.85 157.60,464.60 Q155.50,464.60 155.50,461.90 Q155.50,459.20 157.60,459.20 Z" fill="#0a0a0a" filter="url(#bl)"/>
<path d="M182.30,458.90 Q193.05,457.80 203.80,457.50 Q205.90,457.50 205.90,461.20 Q205.90,464.90 203.80,464.90 Q193.05,465.20 182.30,464.70 Q180.20,464.70 180.20,461.80 Q180.20,458.90 182.30,458.90 Z" fill="#050505" filter="url(#bl)"/>
<path d="M207.30,456.00 Q220.20,455.80 233.10,455.60 Q235.20,455.60 235.20,460.40 Q235.20,465.20 233.10,465.20 Q220.20,465.40 207.30,465.60 Q205.20,465.60 205.20,460.80 Q205.20,456.00 207.30,456.00 Z" fill="#050505" filter="url(#bl)"/>
<rect x="321.3" y="275.2" width="190.30" height="35.80" fill="url(#pg5)" filter="url(#soft)"/>
<path d="M325.20,287.20 Q335.40,286.40 345.60,287.20 Q347.70,287.20 347.70,291.50 Q347.70,295.80 345.60,295.80 Q335.40,295.00 325.20,295.80 Q323.10,295.80 323.10,291.50 Q323.10,287.20 325.20,287.20 Z" fill="#fff" opacity="0.16" filter="url(#bl2)"/>
<path d="M352.40,285.90 Q361.05,284.90 369.70,286.30 Q371.80,286.30 371.80,290.60 Q371.80,294.90 369.70,294.90 Q361.05,293.50 352.40,294.50 Q350.30,294.50 350.30,290.20 Q350.30,285.90 352.40,285.90 Z" fill="#fff" opacity="0.16" filter="url(#bl2)"/>
<path d="M377.00,285.40 Q387.05,285.70 397.10,285.40 Q399.20,285.40 399.20,289.90 Q399.20,294.40 397.10,294.40 Q387.05,293.80 377.00,293.80 Q374.90,293.80 374.90,289.60 Q374.90,285.40 377.00,285.40 Z" fill="#fff" opacity="0.16" filter="url(#bl2)"/>
<path d="M403.30,286.70 Q413.35,285.70 423.40,286.70 Q425.50,286.70 425.50,291.00 Q425.50,295.30 423.40,295.30 Q413.35,294.30 403.30,295.30 Q401.20,295.30 401.20,291.00 Q401.20,286.70 403.30,286.70 Z" fill="#fff" opacity="0.16" filter="url(#bl2)"/>
<path d="M430.70,288.20 Q441.30,288.60 451.90,289.00 Q454.00,289.00 454.00,293.50 Q454.00,298.00 451.90,298.00 Q441.30,297.60 430.70,297.20 Q428.60,297.20 428.60,292.70 Q428.60,288.20 430.70,288.20 Z" fill="#fff" opacity="0.16" filter="url(#bl2)"/>
<path d="M458.80,289.10 Q468.20,290.00 477.60,290.90 Q479.70,290.90 479.70,295.40 Q479.70,299.90 477.60,299.90 Q468.20,299.00 458.80,298.10 Q456.70,298.10 456.70,293.60 Q456.70,289.10 458.80,289.10 Z" fill="#fff" opacity="0.16" filter="url(#bl2)"/>
<path d="M483.30,291.10 Q492.50,292.15 501.70,293.20 Q503.80,293.20 503.80,297.50 Q503.80,301.80 501.70,301.80 Q492.50,300.75 483.30,299.70 Q481.20,299.70 481.20,295.40 Q481.20,291.10 483.30,291.10 Z" fill="#fff" opacity="0.16" filter="url(#bl2)"/>
<path d="M327.40,289.40 Q335.40,288.60 343.40,289.40 Q345.50,289.40 345.50,291.50 Q345.50,293.60 343.40,293.60 Q335.40,292.80 327.40,293.60 Q325.30,293.60 325.30,291.50 Q325.30,289.40 327.40,289.40 Z" fill="#121212" filter="url(#bl)"/>
<path d="M354.60,288.10 Q361.05,287.10 367.50,288.50 Q369.60,288.50 369.60,290.60 Q369.60,292.70 367.50,292.70 Q361.05,291.30 354.60,292.30 Q352.50,292.30 352.50,290.20 Q352.50,288.10 354.60,288.10 Z" fill="#121212" filter="url(#bl)"/>
<path d="M379.20,287.60 Q387.05,287.90 394.90,287.60 Q397.00,287.60 397.00,289.90 Q397.00,292.20 394.90,292.20 Q387.05,291.60 379.20,291.60 Q377.10,291.60 377.10,289.60 Q377.10,287.60 379.20,287.60 Z" fill="#4a4a4a" filter="url(#bl)"/>
<path d="M405.50,288.90 Q413.35,287.90 421.20,288.90 Q423.30,288.90 423.30,291.00 Q423.30,293.10 421.20,293.10 Q413.35,292.10 405.50,293.10 Q403.40,293.10 403.40,291.00 Q403.40,288.90 405.50,288.90 Z" fill="#121212" filter="url(#bl)"/>
<path d="M432.90,290.40 Q441.30,290.80 449.70,291.20 Q451.80,291.20 451.80,293.50 Q451.80,295.80 449.70,295.80 Q441.30,295.40 432.90,295.00 Q430.80,295.00 430.80,292.70 Q430.80,290.40 432.90,290.40 Z" fill="#121212" filter="url(#bl)"/>
<path d="M461.00,291.30 Q468.20,292.20 475.40,293.10 Q477.50,293.10 477.50,295.40 Q477.50,297.70 475.40,297.70 Q468.20,296.80 461.00,295.90 Q458.90,295.90 458.90,293.60 Q458.90,291.30 461.00,291.30 Z" fill="#161616" filter="url(#bl)"/>
<path d="M485.50,293.30 Q492.50,294.35 499.50,295.40 Q501.60,295.40 501.60,297.50 Q501.60,299.60 499.50,299.60 Q492.50,298.55 485.50,297.50 Q483.40,297.50 483.40,295.40 Q483.40,293.30 485.50,293.30 Z" fill="#222222" filter="url(#bl)"/>
<rect x="321.3" y="317.3" width="189.50" height="35.90" fill="url(#pg6)" filter="url(#soft)"/>
<path d="M328.60,327.40 Q339.00,327.40 349.40,327.40 Q351.50,327.40 351.50,331.70 Q351.50,336.00 349.40,336.00 Q339.00,336.00 328.60,336.00 Q326.50,336.00 326.50,331.70 Q326.50,327.40 328.60,327.40 Z" fill="#fff" opacity="0.16" filter="url(#bl2)"/>
<path d="M354.30,327.40 Q364.25,327.70 374.20,327.60 Q376.30,327.60 376.30,332.30 Q376.30,337.00 374.20,337.00 Q364.25,336.90 354.30,337.20 Q352.20,337.20 352.20,332.30 Q352.20,327.40 354.30,327.40 Z" fill="#fff" opacity="0.16" filter="url(#bl2)"/>
<path d="M379.10,328.30 Q389.30,328.30 399.50,328.30 Q401.60,328.30 401.60,333.00 Q401.60,337.70 399.50,337.70 Q389.30,337.70 379.10,337.70 Q377.00,337.70 377.00,333.00 Q377.00,328.30 379.10,328.30 Z" fill="#fff" opacity="0.16" filter="url(#bl2)"/>
<path d="M404.70,329.00 Q414.40,329.00 424.10,329.00 Q426.20,329.00 426.20,333.50 Q426.20,338.00 424.10,338.00 Q414.40,338.00 404.70,338.00 Q402.60,338.00 402.60,333.50 Q402.60,329.00 404.70,329.00 Z" fill="#fff" opacity="0.16" filter="url(#bl2)"/>
<path d="M429.70,328.80 Q439.85,328.40 450.00,328.80 Q452.10,328.80 452.10,333.50 Q452.10,338.20 450.00,338.20 Q439.85,337.80 429.70,338.20 Q427.60,338.20 427.60,333.50 Q427.60,328.80 429.70,328.80 Z" fill="#fff" opacity="0.16" filter="url(#bl2)"/>
<path d="M455.10,328.50 Q465.25,328.50 475.40,328.50 Q477.50,328.50 477.50,333.20 Q477.50,337.90 475.40,337.90 Q465.25,337.90 455.10,337.90 Q453.00,337.90 453.00,333.20 Q453.00,328.50 455.10,328.50 Z" fill="#fff" opacity="0.16" filter="url(#bl2)"/>
<path d="M481.20,329.90 Q491.25,330.62 501.30,330.85 Q503.40,330.85 503.40,335.60 Q503.40,340.35 501.30,340.35 Q491.25,339.38 481.20,338.90 Q479.10,338.90 479.10,334.40 Q479.10,329.90 481.20,329.90 Z" fill="#fff" opacity="0.16" filter="url(#bl2)"/>
<path d="M330.80,329.60 Q339.00,329.60 347.20,329.60 Q349.30,329.60 349.30,331.70 Q349.30,333.80 347.20,333.80 Q339.00,333.80 330.80,333.80 Q328.70,333.80 328.70,331.70 Q328.70,329.60 330.80,329.60 Z" fill="#0e0e0e" filter="url(#bl)"/>
<path d="M356.50,329.60 Q364.25,329.90 372.00,329.80 Q374.10,329.80 374.10,332.30 Q374.10,334.80 372.00,334.80 Q364.25,334.70 356.50,335.00 Q354.40,335.00 354.40,332.30 Q354.40,329.60 356.50,329.60 Z" fill="#0e0e0e" filter="url(#bl)"/>
<path d="M381.30,330.50 Q389.30,330.50 397.30,330.50 Q399.40,330.50 399.40,333.00 Q399.40,335.50 397.30,335.50 Q389.30,335.50 381.30,335.50 Q379.20,335.50 379.20,333.00 Q379.20,330.50 381.30,330.50 Z" fill="#0e0e0e" filter="url(#bl)"/>
<path d="M406.90,331.20 Q414.40,331.20 421.90,331.20 Q424.00,331.20 424.00,333.50 Q424.00,335.80 421.90,335.80 Q414.40,335.80 406.90,335.80 Q404.80,335.80 404.80,333.50 Q404.80,331.20 406.90,331.20 Z" fill="#0e0e0e" filter="url(#bl)"/>
<path d="M431.90,331.00 Q439.85,330.60 447.80,331.00 Q449.90,331.00 449.90,333.50 Q449.90,336.00 447.80,336.00 Q439.85,335.60 431.90,336.00 Q429.80,336.00 429.80,333.50 Q429.80,331.00 431.90,331.00 Z" fill="#0e0e0e" filter="url(#bl)"/>
<path d="M457.30,330.70 Q465.25,330.70 473.20,330.70 Q475.30,330.70 475.30,333.20 Q475.30,335.70 473.20,335.70 Q465.25,335.70 457.30,335.70 Q455.20,335.70 455.20,333.20 Q455.20,330.70 457.30,330.70 Z" fill="#0e0e0e" filter="url(#bl)"/>
<path d="M483.40,332.10 Q491.25,332.82 499.10,333.05 Q501.20,333.05 501.20,335.60 Q501.20,338.15 499.10,338.15 Q491.25,337.18 483.40,336.70 Q481.30,336.70 481.30,334.40 Q481.30,332.10 483.40,332.10 Z" fill="#0e0e0e" filter="url(#bl)"/>
<rect x="321.3" y="360.5" width="189.30" height="35.70" fill="url(#pg7)" filter="url(#soft)"/>
<path d="M331.30,375.00 Q342.10,374.25 352.90,374.50 Q355.00,374.50 355.00,378.40 Q355.00,382.30 352.90,382.30 Q342.10,382.55 331.30,381.80 Q329.20,381.80 329.20,378.40 Q329.20,375.00 331.30,375.00 Z" fill="#fff" opacity="0.16" filter="url(#bl2)"/>
<path d="M356.10,374.20 Q366.45,374.20 376.80,374.20 Q378.90,374.20 378.90,378.40 Q378.90,382.60 376.80,382.60 Q366.45,382.60 356.10,382.60 Q354.00,382.60 354.00,378.40 Q354.00,374.20 356.10,374.20 Z" fill="#fff" opacity="0.16" filter="url(#bl2)"/>
<path d="M379.10,374.00 Q390.55,374.00 402.00,374.00 Q404.10,374.00 404.10,378.70 Q404.10,383.40 402.00,383.40 Q390.55,383.40 379.10,383.40 Q377.00,383.40 377.00,378.70 Q377.00,374.00 379.10,374.00 Z" fill="#fff" opacity="0.16" filter="url(#bl2)"/>
<path d="M401.30,373.80 Q412.35,373.80 423.40,373.80 Q425.50,373.80 425.50,378.10 Q425.50,382.40 423.40,382.40 Q412.35,382.40 401.30,382.40 Q399.20,382.40 399.20,378.10 Q399.20,373.80 401.30,373.80 Z" fill="#fff" opacity="0.16" filter="url(#bl2)"/>
<path d="M426.80,372.90 Q437.25,372.90 447.70,372.90 Q449.80,372.90 449.80,377.70 Q449.80,382.50 447.70,382.50 Q437.25,382.50 426.80,382.50 Q424.70,382.50 424.70,377.70 Q424.70,372.90 426.80,372.90 Z" fill="#fff" opacity="0.16" filter="url(#bl2)"/>
<path d="M451.10,374.30 Q461.60,374.30 472.10,374.30 Q474.20,374.30 474.20,378.60 Q474.20,382.90 472.10,382.90 Q461.60,382.90 451.10,382.90 Q449.00,382.90 449.00,378.60 Q449.00,374.30 451.10,374.30 Z" fill="#fff" opacity="0.16" filter="url(#bl2)"/>
<path d="M475.00,373.80 Q486.05,373.80 497.10,373.80 Q499.20,373.80 499.20,378.10 Q499.20,382.40 497.10,382.40 Q486.05,382.40 475.00,382.40 Q472.90,382.40 472.90,378.10 Q472.90,373.80 475.00,373.80 Z" fill="#fff" opacity="0.16" filter="url(#bl2)"/>
<path d="M333.40,377.20 Q342.10,376.45 350.80,376.70 Q352.80,376.70 352.80,378.40 Q352.80,380.10 350.80,380.10 Q342.10,380.35 333.40,379.60 Q331.40,379.60 331.40,378.40 Q331.40,377.20 333.40,377.20 Z" fill="#202020" filter="url(#bl)"/>
<path d="M358.30,376.40 Q366.45,376.40 374.60,376.40 Q376.70,376.40 376.70,378.40 Q376.70,380.40 374.60,380.40 Q366.45,380.40 358.30,380.40 Q356.20,380.40 356.20,378.40 Q356.20,376.40 358.30,376.40 Z" fill="#161616" filter="url(#bl)"/>
<path d="M381.30,376.20 Q390.55,376.20 399.80,376.20 Q401.90,376.20 401.90,378.70 Q401.90,381.20 399.80,381.20 Q390.55,381.20 381.30,381.20 Q379.20,381.20 379.20,378.70 Q379.20,376.20 381.30,376.20 Z" fill="#0e0e0e" filter="url(#bl)"/>
<path d="M403.50,376.00 Q412.35,376.00 421.20,376.00 Q423.30,376.00 423.30,378.10 Q423.30,380.20 421.20,380.20 Q412.35,380.20 403.50,380.20 Q401.40,380.20 401.40,378.10 Q401.40,376.00 403.50,376.00 Z" fill="#141414" filter="url(#bl)"/>
<path d="M429.00,375.10 Q437.25,375.10 445.50,375.10 Q447.60,375.10 447.60,377.70 Q447.60,380.30 445.50,380.30 Q437.25,380.30 429.00,380.30 Q426.90,380.30 426.90,377.70 Q426.90,375.10 429.00,375.10 Z" fill="#0e0e0e" filter="url(#bl)"/>
<path d="M453.30,376.50 Q461.60,376.50 469.90,376.50 Q472.00,376.50 472.00,378.60 Q472.00,380.70 469.90,380.70 Q461.60,380.70 453.30,380.70 Q451.20,380.70 451.20,378.60 Q451.20,376.50 453.30,376.50 Z" fill="#141414" filter="url(#bl)"/>
<path d="M477.20,376.00 Q486.05,376.00 494.90,376.00 Q497.00,376.00 497.00,378.10 Q497.00,380.20 494.90,380.20 Q486.05,380.20 477.20,380.20 Q475.10,380.20 475.10,378.10 Q475.10,376.00 477.20,376.00 Z" fill="#141414" filter="url(#bl)"/>
<rect x="321.3" y="403.2" width="189.50" height="35.50" fill="url(#pg8)" filter="url(#soft)"/>
<path d="M323.00,416.60 Q334.70,416.60 346.40,416.60 Q348.50,416.60 348.50,421.90 Q348.50,427.20 346.40,427.20 Q334.70,427.20 323.00,427.20 Q320.90,427.20 320.90,421.90 Q320.90,416.60 323.00,416.60 Z" fill="#fff" opacity="0.16" filter="url(#bl2)"/>
<path d="M350.80,416.70 Q361.85,416.70 372.90,416.70 Q375.00,416.70 375.00,421.80 Q375.00,426.90 372.90,426.90 Q361.85,426.90 350.80,426.90 Q348.70,426.90 348.70,421.80 Q348.70,416.70 350.80,416.70 Z" fill="#fff" opacity="0.16" filter="url(#bl2)"/>
<path d="M377.80,417.20 Q388.80,417.20 399.80,417.20 Q401.90,417.20 401.90,422.50 Q401.90,427.80 399.80,427.80 Q388.80,427.80 377.80,427.80 Q375.70,427.80 375.70,422.50 Q375.70,417.20 377.80,417.20 Z" fill="#fff" opacity="0.16" filter="url(#bl2)"/>
<path d="M403.80,417.40 Q415.50,417.40 427.20,417.40 Q429.30,417.40 429.30,422.80 Q429.30,428.20 427.20,428.20 Q415.50,428.20 403.80,428.20 Q401.70,428.20 401.70,422.80 Q401.70,417.40 403.80,417.40 Z" fill="#fff" opacity="0.16" filter="url(#bl2)"/>
<path d="M430.30,417.00 Q442.35,417.00 454.40,417.00 Q456.50,417.00 456.50,422.30 Q456.50,427.60 454.40,427.60 Q442.35,427.60 430.30,427.60 Q428.20,427.60 428.20,422.30 Q428.20,417.00 430.30,417.00 Z" fill="#fff" opacity="0.16" filter="url(#bl2)"/>
<path d="M458.40,416.40 Q469.65,416.40 480.90,416.40 Q483.00,416.40 483.00,421.90 Q483.00,427.40 480.90,427.40 Q469.65,427.40 458.40,427.40 Q456.30,427.40 456.30,421.90 Q456.30,416.40 458.40,416.40 Z" fill="#fff" opacity="0.16" filter="url(#bl2)"/>
<path d="M484.90,416.40 Q496.95,416.40 509.00,416.40 Q511.10,416.40 511.10,421.90 Q511.10,427.40 509.00,427.40 Q496.95,427.40 484.90,427.40 Q482.80,427.40 482.80,421.90 Q482.80,416.40 484.90,416.40 Z" fill="#fff" opacity="0.16" filter="url(#bl2)"/>
<path d="M325.20,418.80 Q334.70,418.80 344.20,418.80 Q346.30,418.80 346.30,421.90 Q346.30,425.00 344.20,425.00 Q334.70,425.00 325.20,425.00 Q323.10,425.00 323.10,421.90 Q323.10,418.80 325.20,418.80 Z" fill="#060606" filter="url(#bl)"/>
<path d="M353.00,418.90 Q361.85,418.90 370.70,418.90 Q372.80,418.90 372.80,421.80 Q372.80,424.70 370.70,424.70 Q361.85,424.70 353.00,424.70 Q350.90,424.70 350.90,421.80 Q350.90,418.90 353.00,418.90 Z" fill="#060606" filter="url(#bl)"/>
<path d="M380.00,419.40 Q388.80,419.40 397.60,419.40 Q399.70,419.40 399.70,422.50 Q399.70,425.60 397.60,425.60 Q388.80,425.60 380.00,425.60 Q377.90,425.60 377.90,422.50 Q377.90,419.40 380.00,419.40 Z" fill="#060606" filter="url(#bl)"/>
<path d="M406.00,419.60 Q415.50,419.60 425.00,419.60 Q427.10,419.60 427.10,422.80 Q427.10,426.00 425.00,426.00 Q415.50,426.00 406.00,426.00 Q403.90,426.00 403.90,422.80 Q403.90,419.60 406.00,419.60 Z" fill="#060606" filter="url(#bl)"/>
<path d="M432.50,419.20 Q442.35,419.20 452.20,419.20 Q454.30,419.20 454.30,422.30 Q454.30,425.40 452.20,425.40 Q442.35,425.40 432.50,425.40 Q430.40,425.40 430.40,422.30 Q430.40,419.20 432.50,419.20 Z" fill="#060606" filter="url(#bl)"/>
<path d="M460.60,418.60 Q469.65,418.60 478.70,418.60 Q480.80,418.60 480.80,421.90 Q480.80,425.20 478.70,425.20 Q469.65,425.20 460.60,425.20 Q458.50,425.20 458.50,421.90 Q458.50,418.60 460.60,418.60 Z" fill="#060606" filter="url(#bl)"/>
<path d="M487.10,418.60 Q496.95,418.60 506.80,418.60 Q508.90,418.60 508.90,421.90 Q508.90,425.20 506.80,425.20 Q496.95,425.20 487.10,425.20 Q485.00,425.20 485.00,421.90 Q485.00,418.60 487.10,418.60 Z" fill="#060606" filter="url(#bl)"/>
<rect x="321.3" y="444.0" width="189.50" height="35.50" fill="url(#pg9)" filter="url(#soft)"/>
<path d="M329.00,454.10 Q338.95,454.10 348.90,454.10 Q351.00,454.10 351.00,458.60 Q351.00,463.10 348.90,463.10 Q338.95,463.10 329.00,463.10 Q326.90,463.10 326.90,458.60 Q326.90,454.10 329.00,454.10 Z" fill="#fff" opacity="0.16" filter="url(#bl2)"/>
<path d="M355.20,454.80 Q365.15,454.80 375.10,454.80 Q377.20,454.80 377.20,459.50 Q377.20,464.20 375.10,464.20 Q365.15,464.20 355.20,464.20 Q353.10,464.20 353.10,459.50 Q353.10,454.80 355.20,454.80 Z" fill="#fff" opacity="0.16" filter="url(#bl2)"/>
<path d="M380.90,455.80 Q391.10,456.00 401.30,456.20 Q403.40,456.20 403.40,460.90 Q403.40,465.60 401.30,465.60 Q391.10,465.40 380.90,465.20 Q378.80,465.20 378.80,460.50 Q378.80,455.80 380.90,455.80 Z" fill="#fff" opacity="0.16" filter="url(#bl2)"/>
<path d="M406.40,456.20 Q417.10,456.20 427.80,456.20 Q429.90,456.20 429.90,461.00 Q429.90,465.80 427.80,465.80 Q417.10,465.80 406.40,465.80 Q404.30,465.80 404.30,461.00 Q404.30,456.20 406.40,456.20 Z" fill="#fff" opacity="0.16" filter="url(#bl2)"/>
<path d="M433.00,457.30 Q442.90,457.30 452.80,457.30 Q454.90,457.30 454.90,462.10 Q454.90,466.90 452.80,466.90 Q442.90,466.90 433.00,466.90 Q430.90,466.90 430.90,462.10 Q430.90,457.30 433.00,457.30 Z" fill="#fff" opacity="0.16" filter="url(#bl2)"/>
<path d="M457.80,456.20 Q468.25,456.20 478.70,456.20 Q480.80,456.20 480.80,461.00 Q480.80,465.80 478.70,465.80 Q468.25,465.80 457.80,465.80 Q455.70,465.80 455.70,461.00 Q455.70,456.20 457.80,456.20 Z" fill="#fff" opacity="0.16" filter="url(#bl2)"/>
<path d="M484.90,456.00 Q494.55,455.50 504.20,455.00 Q506.30,455.00 506.30,459.80 Q506.30,464.60 504.20,464.60 Q494.55,465.10 484.90,465.60 Q482.80,465.60 482.80,460.80 Q482.80,456.00 484.90,456.00 Z" fill="#fff" opacity="0.16" filter="url(#bl2)"/>
<path d="M331.20,456.30 Q338.95,456.30 346.70,456.30 Q348.80,456.30 348.80,458.60 Q348.80,460.90 346.70,460.90 Q338.95,460.90 331.20,460.90 Q329.10,460.90 329.10,458.60 Q329.10,456.30 331.20,456.30 Z" fill="#0e0e0e" filter="url(#bl)"/>
<path d="M357.40,457.00 Q365.15,457.00 372.90,457.00 Q375.00,457.00 375.00,459.50 Q375.00,462.00 372.90,462.00 Q365.15,462.00 357.40,462.00 Q355.30,462.00 355.30,459.50 Q355.30,457.00 357.40,457.00 Z" fill="#0e0e0e" filter="url(#bl)"/>
<path d="M383.10,458.00 Q391.10,458.20 399.10,458.40 Q401.20,458.40 401.20,460.90 Q401.20,463.40 399.10,463.40 Q391.10,463.20 383.10,463.00 Q381.00,463.00 381.00,460.50 Q381.00,458.00 383.10,458.00 Z" fill="#0e0e0e" filter="url(#bl)"/>
<path d="M408.60,458.40 Q417.10,458.40 425.60,458.40 Q427.70,458.40 427.70,461.00 Q427.70,463.60 425.60,463.60 Q417.10,463.60 408.60,463.60 Q406.50,463.60 406.50,461.00 Q406.50,458.40 408.60,458.40 Z" fill="#0e0e0e" filter="url(#bl)"/>
<path d="M435.20,459.50 Q442.90,459.50 450.60,459.50 Q452.70,459.50 452.70,462.10 Q452.70,464.70 450.60,464.70 Q442.90,464.70 435.20,464.70 Q433.10,464.70 433.10,462.10 Q433.10,459.50 435.20,459.50 Z" fill="#0e0e0e" filter="url(#bl)"/>
<path d="M460.00,458.40 Q468.25,458.40 476.50,458.40 Q478.60,458.40 478.60,461.00 Q478.60,463.60 476.50,463.60 Q468.25,463.60 460.00,463.60 Q457.90,463.60 457.90,461.00 Q457.90,458.40 460.00,458.40 Z" fill="#0e0e0e" filter="url(#bl)"/>
<path d="M487.10,458.20 Q494.55,457.70 502.00,457.20 Q504.10,457.20 504.10,459.80 Q504.10,462.40 502.00,462.40 Q494.55,462.90 487.10,463.40 Q485.00,463.40 485.00,460.80 Q485.00,458.20 487.10,458.20 Z" fill="#0e0e0e" filter="url(#bl)"/>
<ellipse cx="193.3" cy="309.0" rx="1.8" ry="1.6" fill="#333" filter="url(#bl)"/>
<g clip-path="url(#cp3)"><rect x="429" y="358" width="19" height="16" fill="url(#cloud)" filter="url(#bl2)"/></g>
<line x1="436.2" y1="406.2" x2="431.5" y2="413.1" stroke="#8a8a8a" stroke-width="1.6" stroke-linecap="round" filter="url(#soft)"/>
<line x1="484.6" y1="427.7" x2="476.9" y2="432.3" stroke="#808080" stroke-width="1.8" stroke-linecap="round" filter="url(#soft)"/>
<ellipse cx="490" cy="463.6" rx="1.3" ry="1.4" fill="#333" filter="url(#soft)"/>
<line x1="79" y1="411" x2="76.5" y2="418" stroke="#cdcdcd" stroke-width="1.2" filter="url(#soft)"/>
<text x="269.3" y="301.3" font-size="14">TM</text>
<text x="268.7" y="339.5" font-size="14">TG</text>
<text x="253.5" y="380.0" font-size="14">17-AAG</text>
<text x="249.6" y="427.0" font-size="14">Radicicol</text>
<text x="240.9" y="470.0" font-size="14">Bortezomib</text>
<text x="241.3" y="498.4" font-size="14">Time (h)</text>
<text x="62.1" y="498.4" font-size="14" text-anchor="middle">0</text>
<text x="87.7" y="498.4" font-size="14" text-anchor="middle">2</text>
<text x="113.8" y="498.4" font-size="14" text-anchor="middle">4</text>
<text x="139.6" y="498.4" font-size="14" text-anchor="middle">6</text>
<text x="166.0" y="498.4" font-size="14" text-anchor="middle">8</text>
<text x="193.5" y="498.4" font-size="14" text-anchor="middle">12</text>
<text x="219.6" y="498.4" font-size="14" text-anchor="middle">24</text>
<text x="344.1" y="504.2" font-size="14" text-anchor="middle">0</text>
<text x="370.7" y="504.2" font-size="14" text-anchor="middle">2</text>
<text x="396.6" y="504.2" font-size="14" text-anchor="middle">4</text>
<text x="422.8" y="504.2" font-size="14" text-anchor="middle">6</text>
<text x="449.3" y="504.2" font-size="14" text-anchor="middle">8</text>
<text x="476.1" y="504.2" font-size="14" text-anchor="middle">12</text>
<text x="502.2" y="504.2" font-size="14" text-anchor="middle">24</text>
</svg>
</body></html>
